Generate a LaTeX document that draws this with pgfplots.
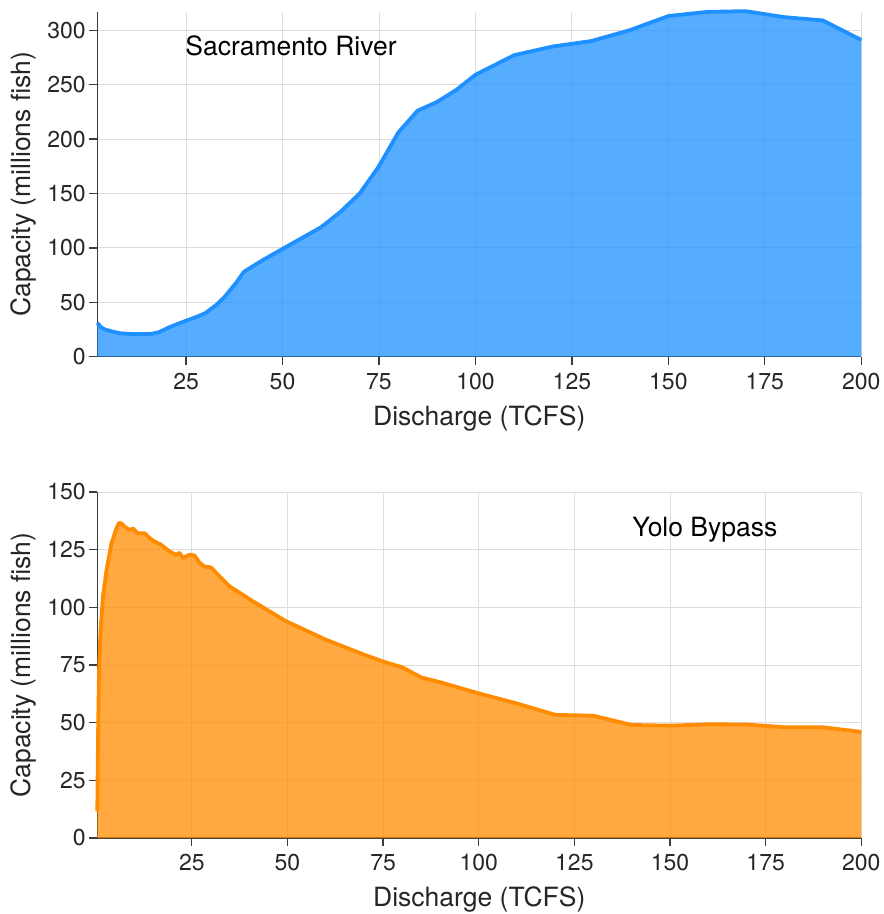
\documentclass[border=0pt]{standalone}
\usepackage{fontspec}
\setmainfont{TeX Gyre Heros}
\usepackage{pgfplots}
\usepackage{pgfplotstable}
\pgfplotsset{compat=1.18}

\definecolor{sacline}{RGB}{30,144,255}
\definecolor{yololine}{RGB}{255,140,0}
\definecolor{spine}{RGB}{60,60,60}
\definecolor{gridc}{RGB}{222,222,222}
\definecolor{txt}{RGB}{38,38,38}

% Sacramento River capacity vs. discharge
\pgfplotstableread{
x y
2 31
3 27
4 25
6 23
8 21.5
10 21
12 20.8
14 20.8
16 21
18 22.5
20 26
22 29
25 33
28 37
30 40
33 48
35 55
38 68
40 78
45 89
50 99
55 109
60 119
65 133
70 150
75 175
80 206
85 226
90 234
95 245
100 259
110 277
120 285
130 290
140 300
150 313
160 316.8
170 317.5
180 312
190 309
200 291
}\sac

% Yolo Bypass capacity vs. discharge
\pgfplotstableread{
x y
0.3 11.5
0.5 45
0.75 72
1.15 90
1.8 105
2.7 116
4.0 127.7
5.3 134.2
6.0 136.6
6.6 136.4
7.5 134.9
8.8 133.5
9.6 134.2
10.9 132.1
12.7 132.1
14.0 130
15.3 128.5
17.0 127.1
19.2 124.2
20.9 122.8
21.8 123.6
22.7 121.4
24.4 122.8
25.7 122.5
27.0 119.4
28.3 117.7
30.0 117.3
31.8 114.2
34.8 109.2
40.9 102.7
49.6 94
60 86
70 79.5
75 76.5
80 74
85 69.6
90 67.5
100 62.7
110 58.3
120 53.4
130 53
140 49
150 48.7
160 49.3
170 49.2
180 48
190 48
200 46
}\yolo

\pgfplotsset{
  capstyle/.style={
    scale only axis, width=764pt, height=345pt,
    axis lines*=left,
    axis line style={spine, line width=1.3pt, -},
    tick style={spine, line width=1.3pt},
    major tick length=8pt,
    tick align=outside,
    grid=major, grid style={gridc, line width=0.9pt},
    xtick={25,50,...,200},
    xmax=200,
    ymin=0,
    clip=false,
    tick label style={font=\fontsize{23}{27}\selectfont, text=txt},
    xticklabel style={yshift=-5pt},
    label style={font=\fontsize{26.5}{30}\selectfont, text=txt},
    /pgf/number format/assume math mode=true,
    xlabel={Discharge (TCFS)},
    ylabel={Capacity (millions fish)},
    ylabel style={at={(axis description cs:-0.096,0.5)}, anchor=center},
    xlabel style={at={(axis description cs:0.5,-0.198)}, anchor=base},
  }
}

\begin{document}
\begin{tikzpicture}
\useasboundingbox (-97.3pt,-76pt) rectangle (786.7pt,838pt);

\begin{axis}[capstyle, at={(0,481.3pt)}, xmin=2, ymax=317,
  ytick={0,50,...,300}]
  \addplot[draw=none, fill=sacline, fill opacity=0.75] table {\sac} \closedcycle;
  \addplot[sacline, line width=3.8pt, line join=round] table {\sac};
  \node[anchor=base west, inner sep=0, font=\fontsize{26.5}{30}\selectfont, text=black]
    at (axis cs:24.8,277) {Sacramento River};
\end{axis}

\begin{axis}[capstyle, at={(0,0)}, height=346pt, xmin=0.3, ymax=150,
  ytick={0,25,...,150}]
  \addplot[draw=none, fill=yololine, fill opacity=0.75] table {\yolo} \closedcycle;
  \addplot[yololine, line width=3.8pt, line join=round] table {\yolo};
  \node[anchor=base west, inner sep=0, font=\fontsize{26.5}{30}\selectfont, text=black]
    at (axis cs:140.1,130.5) {Yolo Bypass};
\end{axis}
\end{tikzpicture}
\end{document}
